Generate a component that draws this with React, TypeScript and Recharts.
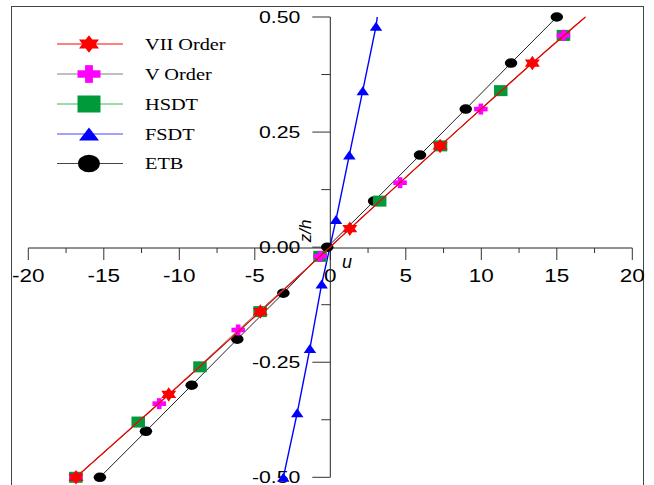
import { ComposedChart, Scatter, XAxis, YAxis } from 'recharts';

// through-thickness displacement u vs z/h
const VII_Z = [-0.5, -0.32, -0.14, 0.04, 0.22, 0.4, 0.5];
const VII_U = [-16.84, -10.7, -4.63, 1.29, 7.27, 13.38, 16.9];

const V_Z = [-0.5, -0.34, -0.18, -0.02, 0.14, 0.3, 0.46, 0.5];
const V_U = [-16.85, -11.33, -6.1, -0.68, 4.62, 9.97, 15.44, 16.88];

const HSDT_Z = [-0.5, -0.38, -0.26, -0.14, -0.02, 0.1, 0.22, 0.34, 0.46, 0.5];
const HSDT_U = [-16.85, -12.72, -8.63, -4.65, -0.68, 3.27, 7.3, 11.29, 15.44, 16.88];

const FSDT_Z = [-0.5, -0.36, -0.22, -0.08, 0.06, 0.2, 0.34, 0.48, 0.5];
const FSDT_U = [-3.11, -2.19, -1.35, -0.57, 0.38, 1.26, 2.15, 3.03, 3.11];

const ETB_Z = [-0.5, -0.4, -0.3, -0.2, -0.1, 0, 0.1, 0.2, 0.3, 0.4, 0.5];
const ETB_U = [-15.26, -12.21, -9.18, -6.16, -3.11, -0.2, 2.9, 5.94, 8.97, 11.97, 15.0];

const X_TICKS = [-20, -17.5, -15, -12.5, -10, -7.5, -5, -2.5, 0, 2.5, 5, 7.5, 10, 12.5, 15, 17.5, 20];
const Y_TICKS = [-0.5, -0.375, -0.25, -0.125, 0, 0.125, 0.25, 0.375, 0.5];

type Kind = 'star' | 'plus' | 'square' | 'triangle' | 'circle';

interface Series {
  name: string;
  z: number[];
  u: number[];
  kind: Kind;
  fill: string;
  line: string;
  legendLine: string;
  width: number;
  openEnd: boolean; // last point is only the end of the line, no marker
}

const SERIES: Series[] = [
  { name: 'VII Order', z: VII_Z, u: VII_U, kind: 'star', fill: '#ff0000', line: '#ee0000', legendLine: '#ff0000', width: 1.2, openEnd: true },
  { name: 'V Order', z: V_Z, u: V_U, kind: 'plus', fill: '#ff00ff', line: '#808080', legendLine: '#808080', width: 1, openEnd: true },
  { name: 'HSDT', z: HSDT_Z, u: HSDT_U, kind: 'square', fill: '#009a3a', line: '#2aa84a', legendLine: '#33bb55', width: 1, openEnd: true },
  { name: 'FSDT', z: FSDT_Z, u: FSDT_U, kind: 'triangle', fill: '#0000ff', line: '#0000ff', legendLine: '#4444ff', width: 1.4, openEnd: true },
  { name: 'ETB', z: ETB_Z, u: ETB_U, kind: 'circle', fill: '#000000', line: '#222222', legendLine: '#444444', width: 1, openEnd: false },
];

// bottom to top
const DRAW_ORDER = ['FSDT', 'ETB', 'HSDT', 'V Order', 'VII Order'];

const PLOT_SIZE: Record<Kind, [number, number]> = {
  star: [15, 14.5], plus: [13.5, 11], square: [13.5, 11], triangle: [12.5, 9], circle: [12.5, 9.5],
};
const LEGEND_SIZE: Record<Kind, [number, number]> = {
  star: [20, 17.7], plus: [23, 17.7], square: [23, 17], triangle: [20, 13], circle: [22, 17.7],
};

const W = 654;
const H = 485;
const PLOT = { left: 28.3, right: 632.3, top: 17, bottom: 477.3 };
const ORIGIN_X = 330.3;
const ORIGIN_Y = 248;
const SANS = '"Liberation Sans", Arial, sans-serif';
const SERIF = '"Liberation Serif", "Times New Roman", serif';

function Marker({ kind, cx, cy, w, h, color }: { kind: Kind; cx: number; cy: number; w: number; h: number; color: string }) {
  switch (kind) {
    case 'star': {
      const R = h / 2;
      const sx = w / (Math.sqrt(3) * R);
      const pts: string[] = [];
      for (let i = 0; i < 12; i++) {
        const r = i % 2 === 0 ? R : R / Math.sqrt(3);
        const a = ((-90 + i * 30) * Math.PI) / 180;
        pts.push(`${cx + sx * r * Math.cos(a)},${cy + r * Math.sin(a)}`);
      }
      return <polygon points={pts.join(' ')} fill={color} />;
    }
    case 'plus': {
      const bh = h * 0.42;
      const bw = w * 0.34;
      return (
        <g fill={color}>
          <rect x={cx - w / 2} y={cy - bh / 2} width={w} height={bh} />
          <rect x={cx - bw / 2} y={cy - h / 2} width={bw} height={h} />
        </g>
      );
    }
    case 'square':
      return <rect x={cx - w / 2} y={cy - h / 2} width={w} height={h} fill={color} />;
    case 'triangle':
      return (
        <polygon
          points={`${cx},${cy - h / 2} ${cx - w / 2},${cy + h / 2} ${cx + w / 2},${cy + h / 2}`}
          fill={color}
        />
      );
    default:
      return <ellipse cx={cx} cy={cy} rx={w / 2} ry={h / 2} fill={color} />;
  }
}

function XTick(props: any) {
  const { x, y, payload } = props;
  const v = payload.value as number;
  const major = v % 5 === 0;
  return (
    <g>
      <line x1={x} x2={x} y1={y} y2={y + (major ? 12 : 5)} stroke="#333" strokeWidth={1} />
      {major && (
        <text
          transform={`translate(${x},${y + 34}) scale(1.25,1)`}
          textAnchor="middle"
          fontFamily={SANS}
          fontSize={18}
          fill="#000"
        >
          {v}
        </text>
      )}
    </g>
  );
}

function YTick(props: any) {
  const { x, y, payload } = props;
  const v = payload.value as number;
  const major = Math.abs(v * 4 - Math.round(v * 4)) < 1e-6;
  return (
    <g>
      <line x1={x - (major ? 18 : 9)} x2={x} y1={y} y2={y} stroke="#333" strokeWidth={1} />
      {major && (
        <text
          transform={`translate(${x - 30},${y + 6}) scale(1.25,1)`}
          textAnchor="end"
          fontFamily={SANS}
          fontSize={17}
          fill="#000"
        >
          {v.toFixed(2)}
        </text>
      )}
    </g>
  );
}

function LegendBox() {
  const rows = [44, 74, 104, 134, 163.5];
  return (
    <svg width={W} height={H} style={{ position: 'absolute', left: 0, top: 0 }}>
      {SERIES.map((s, i) => {
        const y = rows[i];
        const [w, h] = LEGEND_SIZE[s.kind];
        return (
          <g key={s.name}>
            <line x1={57} x2={123} y1={y} y2={y} stroke={s.legendLine} strokeWidth={1} />
            <Marker kind={s.kind} cx={89} cy={y} w={w} h={h} color={s.fill} />
            <text
              transform={`translate(145,${y + 5.5}) scale(1.27,1)`}
              fontFamily={SERIF}
              fontSize={16}
              fill="#000"
            >
              {s.name}
            </text>
          </g>
        );
      })}
      <text
        transform="translate(305,231) rotate(-90)"
        textAnchor="middle"
        dominantBaseline="central"
        fontFamily={SANS}
        fontStyle="italic"
        fontSize={17}
      >
        z/h
      </text>
      <text x={347} y={268} textAnchor="middle" fontFamily={SANS} fontStyle="italic" fontSize={18}>
        u
      </text>
    </svg>
  );
}

export default function App() {
  const layers = DRAW_ORDER.map(n => SERIES.find(s => s.name === n)!);

  return (
    <div style={{ position: 'relative', width: W, height: H, background: '#fff', overflow: 'hidden' }}>
      <style>{'body{margin:0}'}</style>

      {/* outer frame */}
      <div
        style={{
          position: 'absolute', left: 11, top: 6, width: 633, height: 520,
          border: '1px solid #444', boxSizing: 'border-box',
        }}
      />

      {/* x axis through z/h = 0 */}
      <div style={{ position: 'absolute', left: 0, top: 0 }}>
        <ComposedChart
          width={W}
          height={H}
          margin={{ top: PLOT.top, left: PLOT.left, right: W - PLOT.right, bottom: H - ORIGIN_Y - 40 }}
        >
          <XAxis
            type="number"
            dataKey="u"
            domain={[-20, 20]}
            ticks={X_TICKS}
            interval={0}
            height={40}
            tickSize={0}
            tickMargin={0}
            tick={<XTick />}
            axisLine={{ stroke: '#222', strokeWidth: 1 }}
            allowDataOverflow
          />
          <YAxis type="number" dataKey="z" domain={[0, 0.5]} hide allowDataOverflow />
        </ComposedChart>
      </div>

      {/* y axis through u = 0 */}
      <div style={{ position: 'absolute', left: 0, top: 0 }}>
        <ComposedChart
          width={W}
          height={H}
          margin={{ top: PLOT.top, bottom: H - PLOT.bottom, left: ORIGIN_X - 70, right: W - PLOT.right }}
        >
          <XAxis type="number" dataKey="u" domain={[0, 20]} hide allowDataOverflow />
          <YAxis
            type="number"
            dataKey="z"
            domain={[-0.5, 0.5]}
            ticks={Y_TICKS}
            interval={0}
            width={70}
            tickSize={0}
            tickMargin={0}
            tick={<YTick />}
            axisLine={{ stroke: '#222', strokeWidth: 1 }}
            allowDataOverflow
          />
        </ComposedChart>
      </div>

      <LegendBox />

      {/* data */}
      <div style={{ position: 'absolute', left: 0, top: 0 }}>
        <ComposedChart
          width={W}
          height={H}
          margin={{ top: PLOT.top, left: PLOT.left, right: W - PLOT.right, bottom: H - PLOT.bottom }}
        >
          <XAxis type="number" dataKey="u" domain={[-20, 20]} hide />
          <YAxis type="number" dataKey="z" domain={[-0.5, 0.5]} hide />
          {layers.map(s => {
            const rows = s.z.map((z, i) => ({
              u: s.u[i],
              z,
              mark: !(s.openEnd && i === s.z.length - 1),
            }));
            const [w, h] = PLOT_SIZE[s.kind];
            return (
              <Scatter
                key={s.name}
                name={s.name}
                data={rows}
                line={{ stroke: s.line, strokeWidth: s.width }}
                lineType="joint"
                isAnimationActive={false}
                shape={(p: any) =>
                  p.payload.mark ? (
                    <Marker kind={s.kind} cx={p.cx} cy={p.cy} w={w} h={h} color={s.fill} />
                  ) : (
                    <g />
                  )
                }
              />
            );
          })}
        </ComposedChart>
      </div>
    </div>
  );
}
